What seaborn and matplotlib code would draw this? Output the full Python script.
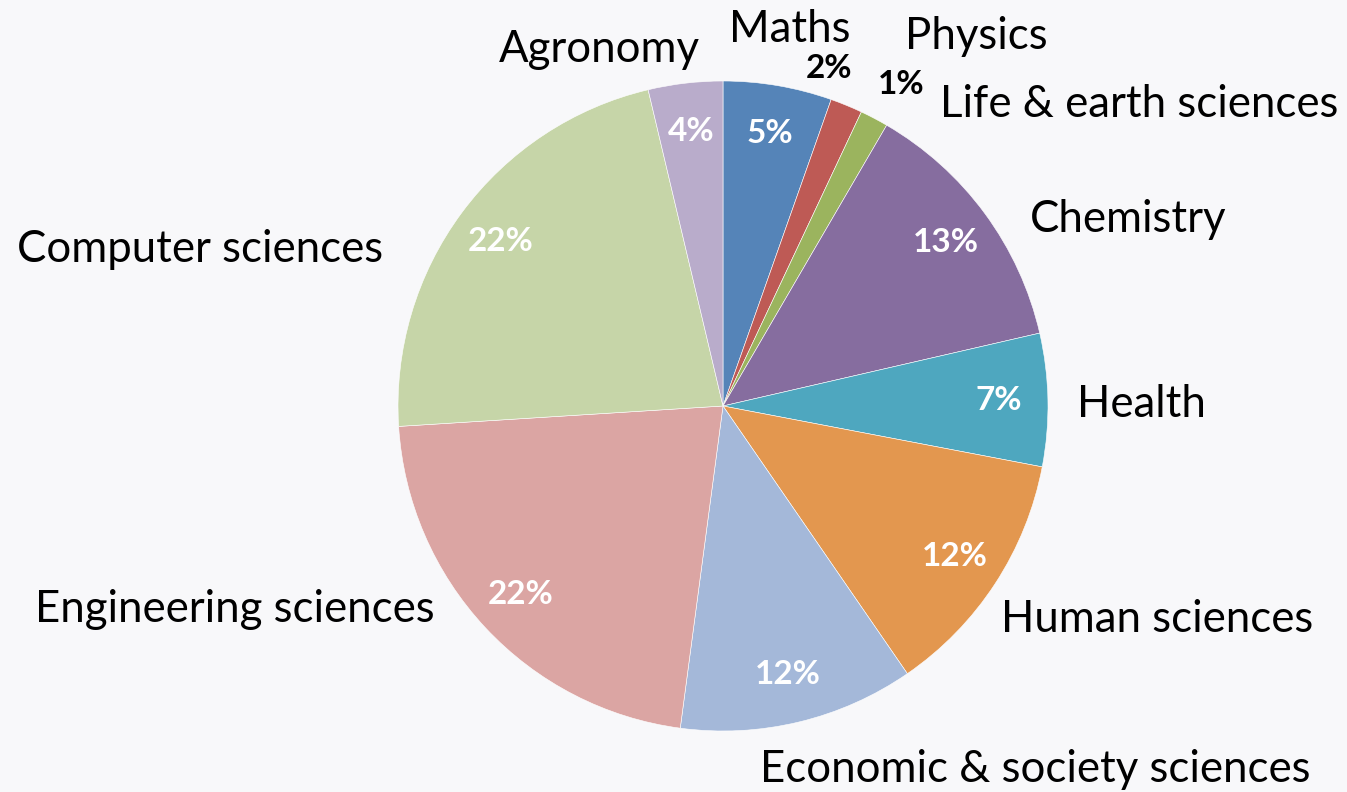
import matplotlib
matplotlib.use("Agg")
import matplotlib.pyplot as plt
import seaborn as sns

# data
fields = ["Maths", "Physics", "Life & earth sciences", "Chemistry", "Health",
          "Human sciences", "Economic & society sciences", "Engineering sciences",
          "Computer sciences", "Agronomy"]
shares = [5.4, 1.6, 1.4, 13.0, 6.6, 12.4, 11.7, 21.9, 22.3, 3.7]
slice_colors = ["#5584B8", "#BE5A55", "#9BB45E", "#866D9F", "#4EA7BF",
                "#E3974F", "#A4B8D9", "#DBA5A3", "#C6D5A8", "#B9ACCB"]

# layout (pixels of the 1347x792 canvas): pie centre / radius
W, H = 1347, 792
CX, CY, R = 723, 406, 325

# category label anchors: x, baseline y, horizontal alignment
label_layout = [
    (790, 42, "center"),
    (976, 49, "center"),
    (940, 117, "left"),
    (1030, 232, "left"),
    (1077, 417, "left"),
    (1001, 632, "left"),
    (760, 782, "left"),
    (435, 622, "right"),
    (383, 262, "right"),
    (700, 62, "right"),
]
# percentages that sit outside the pie (index -> centre in pixels)
outside_pct = {1: (829, 68), 2: (901, 85)}


def px(x, y):
    return (x - CX) / R, (CY - y) / R


sns.set_theme(style="white")
plt.rcParams["font.family"] = ["Lato", "DejaVu Sans"]
bg = "#F8F8FA"

fig = plt.figure(figsize=(W / 100, H / 100), dpi=100, facecolor=bg)
ax = fig.add_axes([0, 0, 1, 1])
ax.set_facecolor(bg)

palette = sns.color_palette(slice_colors)
wedges, _, pcts = ax.pie(
    shares, colors=palette, startangle=90, counterclock=False,
    radius=1, center=(0, 0), autopct="%.0f%%", pctdistance=0.85,
    wedgeprops=dict(edgecolor="white", linewidth=0.4),
    textprops=dict(color="white", fontweight="bold", fontsize=24),
)

for i, t in outside_pct.items():
    pcts[i].set_position(px(*t))
    pcts[i].set_color("black")

for name, (x, y, ha) in zip(fields, label_layout):
    ax.text(*px(x, y), name, ha=ha, va="baseline", fontsize=31.5, color="black")

ax.set_xlim((0 - CX) / R, (W - CX) / R)
ax.set_ylim((CY - H) / R, CY / R)
ax.set_aspect("equal")
ax.axis("off")

fig.savefig("out.png", dpi=100, facecolor=bg)
